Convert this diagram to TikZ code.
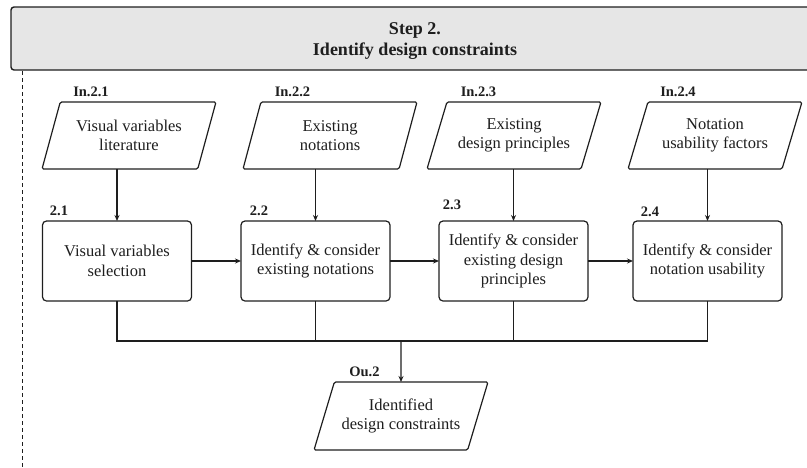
\documentclass[tikz,border=0pt]{standalone}
\usepackage{fontspec}
\setmainfont{Liberation Serif}
\usetikzlibrary{shapes.geometric,arrows.meta}
\definecolor{headgray}{HTML}{E6E6E6}
\definecolor{ink}{HTML}{1E1E1E}
\begin{document}
\begin{tikzpicture}[x=1pt,y=-1pt,
  every node/.style={inner sep=0pt,outer sep=0pt,text=ink},
  header/.style={draw=ink,line width=1.4pt,fill=headgray,rounded corners=3pt,
    minimum width=808pt,minimum height=63pt},
  headtext/.style={align=center,font=\fontsize{18}{21.7}\selectfont\bfseries},
  datashape/.style={trapezium,trapezium left angle=59.2,trapezium right angle=120.8,
    trapezium stretches body,draw=ink,line width=1.2pt,rounded corners=1.5pt,
    minimum width=174pt,minimum height=67pt,align=center,
    font=\fontsize{16.5}{19}\selectfont},
  procbox/.style={draw=ink,line width=1.2pt,rounded corners=4pt,
    minimum width=149pt,minimum height=80pt,align=center,
    font=\fontsize{16.5}{19.5}\selectfont},
  tag/.style={font=\fontsize{14.5}{17}\selectfont\bfseries},
  flow/.style={draw=ink,line width=1.2pt,-{Stealth[length=6pt,width=5pt]}},
  joint/.style={draw=ink,line width=1.2pt}]
\useasboundingbox (0,0) rectangle (807,467);

% header band with the step title
\node[header] (head) at (415,38.5) {};
\node[headtext] (title) at (415,41) {Step 2.\\Identify design constraints};
\coordinate (dtop) at (22,71);
\coordinate (dbot) at (22,467);
\draw[ink,line width=1pt,dash pattern=on 4pt off 3pt] (dtop) -- (dbot);

% inputs
\node[datashape] (i1) at (129,135.5) {Visual variables\\literature};
\node[datashape] (i2) at (330,135.5) {Existing\\notations};
\node[datashape] (i3) at (514,135.5) {Existing\\design principles};
\node[datashape] (i4) at (715,135.5) {Notation\\usability factors};
\node[tag] (ti1) at (91,92) {In.2.1};
\node[tag] (ti2) at (292.5,92) {In.2.2};
\node[tag] (ti3) at (478.5,92) {In.2.3};
\node[tag] (ti4) at (678,92) {In.2.4};

% activities
\node[procbox] (b1) at (117,261) {Visual variables\\selection};
\node[procbox] (b2) at (315.5,261) {Identify \& consider\\existing notations};
\node[procbox] (b3) at (513.5,261) {Identify \& consider\\existing design\\principles};
\node[procbox] (b4) at (707.5,261) {Identify \& consider\\notation usability};
\node[tag] (tb1) at (59,211) {2.1};
\node[tag] (tb2) at (259,211) {2.2};
\node[tag] (tb3) at (452,205) {2.3};
\node[tag] (tb4) at (650,211.5) {2.4};

% output
\node[datashape,minimum height=68pt] (o) at (401,416) {Identified\\design constraints};
\node[tag] (to) at (364.5,372) {Ou.2};

% inputs into activities
\draw[flow] (b1.north |- i1.south) -- (b1.north);
\draw[flow] (b2.north |- i2.south) -- (b2.north);
\draw[flow] (b3.north |- i3.south) -- (b3.north);
\draw[flow] (b4.north |- i4.south) -- (b4.north);

% sequence
\draw[flow] (b1.east) -- (b2.west);
\draw[flow] (b2.east) -- (b3.west);
\draw[flow] (b3.east) -- (b4.west);

% merge into output
\coordinate (m) at (401,341);
\draw[joint] (b1.south) -- (b1.south |- m) -- (b4.south |- m) -- (b4.south);
\draw[joint] (b2.south) -- (b2.south |- m);
\draw[joint] (b3.south) -- (b3.south |- m);
\draw[flow] (m) -- (o.north);
\end{tikzpicture}
\end{document}
